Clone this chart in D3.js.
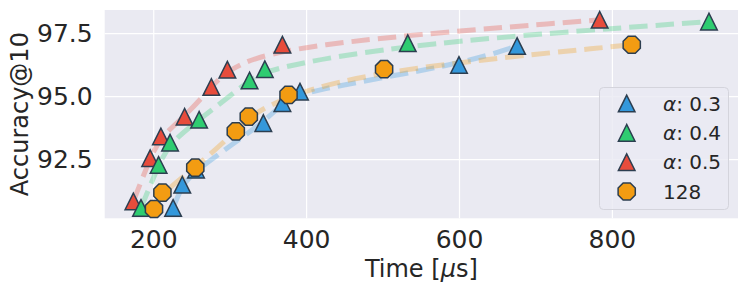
<!DOCTYPE html>
<html>
<head>
<meta charset="utf-8">
<script src="https://cdn.jsdelivr.net/npm/d3@7"></script>
<style>
  html, body { margin: 0; padding: 0; background: #ffffff; }
  svg { display: block; }
  text { font-family: "DejaVu Sans", sans-serif; fill: #262626; }
</style>
</head>
<body>
<svg id="chart" width="748" height="293"></svg>
<script>
// ---- data ----
const seriesNames = ["α: 0.3", "α: 0.4", "α: 0.5", "128"];
const timeA03 = [226, 238, 256, 344, 369, 392, 600, 676];
const accA03  = [90.56, 91.48, 92.08, 93.93, 94.72, 95.18, 96.24, 96.99];
const timeA04 = [184, 207, 222, 260, 326, 346, 533, 927];
const accA04  = [90.56, 92.27, 93.15, 94.06, 95.62, 96.07, 97.10, 97.96];
const timeA05 = [174, 196, 210, 241, 276, 297, 369, 784];
const accA05  = [90.82, 92.54, 93.40, 94.18, 95.36, 96.05, 97.04, 98.03];
const time128 = [201, 212, 255, 308, 325, 377, 502, 826];
const acc128  = [90.52, 91.17, 92.16, 93.60, 94.19, 95.05, 96.07, 97.04];
const xTicks = [200, 400, 600, 800];
const yTicks = [92.5, 95.0, 97.5];

// ---- style ----
const colors = ["#3498db", "#2ecc71", "#e74c3c", "#f39c12"];
const shapes = ["tri", "tri", "tri", "oct"];
const edge = "#2c3e50";

const margin = { left: 104.7, right: 738, top: 10, bottom: 218.3 };
const svg = d3.select("#chart");

const x = d3.scaleLinear().domain([136.5, 965]).range([margin.left, margin.right]);
const y = d3.scaleLinear().domain([90.15, 98.42]).range([margin.bottom, margin.top]);

// background
svg.append("rect")
  .attr("x", margin.left).attr("y", margin.top)
  .attr("width", margin.right - margin.left)
  .attr("height", margin.bottom - margin.top)
  .attr("fill", "#eaeaf2");

// grid
const gx = svg.append("g")
  .attr("transform", `translate(0,${margin.bottom})`)
  .call(d3.axisBottom(x).tickValues(xTicks).tickSize(-(margin.bottom - margin.top)).tickPadding(10).tickFormat(d3.format("d")));
gx.select(".domain").remove();
gx.selectAll(".tick line").attr("stroke", "#ffffff").attr("stroke-width", 1.2);
gx.selectAll(".tick text").attr("font-size", 25).attr("fill", "#262626")
  .attr("dy", "0").attr("y", 30);

const gy = svg.append("g")
  .attr("transform", `translate(${margin.left},0)`)
  .call(d3.axisLeft(y).tickValues(yTicks).tickSize(-(margin.right - margin.left)).tickPadding(12).tickFormat(d3.format(".1f")));
gy.select(".domain").remove();
gy.selectAll(".tick line").attr("stroke", "#ffffff").attr("stroke-width", 1.2);
gy.selectAll(".tick text").attr("font-size", 25).attr("fill", "#262626").attr("x", -12);

// axis labels
const xl = svg.append("text")
  .attr("x", (margin.left + margin.right) / 2).attr("y", 276.5)
  .attr("text-anchor", "middle").attr("font-size", 24);
xl.append("tspan").text("Time [");
xl.append("tspan").attr("font-style", "italic").text("μ");
xl.append("tspan").text("s]");

svg.append("text")
  .attr("transform", `translate(28,${(margin.top + margin.bottom) / 2}) rotate(-90)`)
  .attr("text-anchor", "middle").attr("font-size", 24)
  .text("Accuracy@10");

// symbol types
const triangle = {
  draw(ctx, size) {
    const h = Math.sqrt(size) / 2;
    ctx.moveTo(0, -h);
    ctx.lineTo(-h, h);
    ctx.lineTo(h, h);
    ctx.closePath();
  }
};
const octagon = {
  draw(ctx, size) {
    const r = Math.sqrt(size) / 2;
    for (let i = 0; i < 8; i++) {
      const a = Math.PI / 8 + i * Math.PI / 4;
      const px = r * Math.cos(a), py = r * Math.sin(a);
      if (i === 0) ctx.moveTo(px, py); else ctx.lineTo(px, py);
    }
    ctx.closePath();
  }
};
const symFor = s => s === "tri" ? d3.symbol().type(triangle).size(16.6 * 16.6)
                                 : d3.symbol().type(octagon).size(18.6 * 18.6);

const series = [
  { t: timeA03, a: accA03 },
  { t: timeA04, a: accA04 },
  { t: timeA05, a: accA05 },
  { t: time128, a: acc128 }
];

// clip
svg.append("clipPath").attr("id", "plotclip").append("rect")
  .attr("x", margin.left).attr("y", margin.top)
  .attr("width", margin.right - margin.left).attr("height", margin.bottom - margin.top);

// dashed trend lines
const line = d3.line().x(d => x(d[0])).y(d => y(d[1])).curve(d3.curveBasis);
const linesG = svg.append("g").attr("clip-path", "url(#plotclip)");
series.forEach((s, i) => {
  const pts = s.t.map((t, j) => [t, s.a[j]]);
  linesG.append("path")
    .attr("d", line(pts))
    .attr("fill", "none")
    .attr("stroke", colors[i])
    .attr("stroke-opacity", 0.3)
    .attr("stroke-width", 5)
    .attr("stroke-dasharray", "18.5,8");
});

// markers (drawing order matches the reference stacking)
const markerOrder = [2, 1, 0, 3];
const marksG = svg.append("g");
markerOrder.forEach(i => {
  const s = series[i];
  marksG.selectAll(null)
    .data(s.t.map((t, j) => [t, s.a[j]]))
    .join("path")
    .attr("transform", d => `translate(${x(d[0])},${y(d[1])})`)
    .attr("d", symFor(shapes[i])())
    .attr("fill", colors[i])
    .attr("stroke", edge)
    .attr("stroke-width", 1.5);
});

// legend
const lg = svg.append("g");
lg.append("rect")
  .attr("x", 599.5).attr("y", 87.5).attr("width", 129).attr("height", 122)
  .attr("rx", 4).attr("ry", 4)
  .attr("fill", "#eaeaf2").attr("fill-opacity", 0.8)
  .attr("stroke", "#d4d4dc").attr("stroke-width", 1);
const rowY = d3.scaleLinear().domain([0, 3]).range([103.5, 191.5]);
seriesNames.forEach((name, i) => {
  const yy = rowY(i);
  lg.append("path")
    .attr("transform", `translate(626.7,${yy})`)
    .attr("d", symFor(shapes[i])())
    .attr("fill", colors[i]).attr("stroke", edge).attr("stroke-width", 1.5);
  const t = lg.append("text").attr("x", 663).attr("y", yy + 7).attr("font-size", 20);
  if (name.startsWith("α")) {
    t.append("tspan").attr("font-style", "italic").text("α");
    t.append("tspan").text(name.slice(1));
  } else {
    t.text(name);
  }
});
</script>
</body>
</html>
